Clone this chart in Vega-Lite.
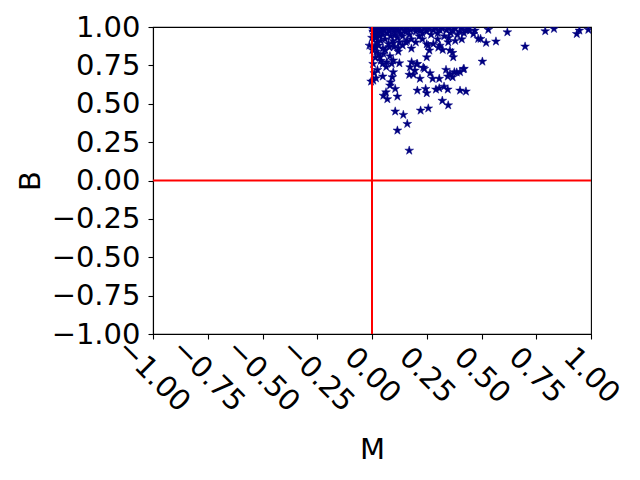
{
  "$schema": "https://vega.github.io/schema/vega-lite/v6.json",
  "width": 438,
  "height": 307,
  "autosize": "none",
  "padding": {"left": 153, "top": 27, "right": 49, "bottom": 146},
  "background": "white",
  "config": {
    "view": {"stroke": "black", "strokeWidth": 1.1},
    "font": "DejaVu Sans",
    "axis": {
      "grid": false,
      "domainColor": "black",
      "domainWidth": 1.1,
      "tickColor": "black",
      "tickWidth": 1.1,
      "tickSize": 5,
      "tickCount": 9,
      "labelFont": "DejaVu Sans",
      "labelFontSize": 29,
      "labelColor": "black",
      "labelFlush": false,
      "labelOverlap": false,
      "titleFont": "DejaVu Sans",
      "titleFontSize": 29,
      "titleFontWeight": "normal",
      "titleColor": "black"
    }
  },
  "datasets": {
    "pts": [
      {"M": 0.17, "B": 0.195}, {"M": 0.116, "B": 0.326}, {"M": 0.161, "B": 0.369}, {"M": 0.106, "B": 0.45},
      {"M": 0.143, "B": 0.428}, {"M": 0.222, "B": 0.456}, {"M": 0.257, "B": 0.47}, {"M": 0.321, "B": 0.52},
      {"M": 0.348, "B": 0.49}, {"M": 0.052, "B": 0.553}, {"M": 0.07, "B": 0.53}, {"M": 0.064, "B": 0.575},
      {"M": 0.116, "B": 0.547}, {"M": 0.106, "B": 0.597}, {"M": 0.207, "B": 0.586}, {"M": 0.245, "B": 0.597},
      {"M": 0.25, "B": 0.569}, {"M": 0.292, "B": 0.593}, {"M": 0.307, "B": 0.601}, {"M": 0.329, "B": 0.612},
      {"M": 0.346, "B": 0.593}, {"M": 0.402, "B": 0.586}, {"M": 0.429, "B": 0.58}, {"M": 0.006, "B": 0.651},
      {"M": 0.018, "B": 0.666}, {"M": 0.049, "B": 0.678}, {"M": -0.004, "B": 0.645}, {"M": 0.085, "B": 0.64},
      {"M": 0.093, "B": 0.673}, {"M": 0.097, "B": 0.706}, {"M": 0.082, "B": 0.619}, {"M": 0.17, "B": 0.689},
      {"M": 0.189, "B": 0.69}, {"M": 0.219, "B": 0.663}, {"M": 0.196, "B": 0.717}, {"M": 0.174, "B": 0.738},
      {"M": 0.181, "B": 0.771}, {"M": 0.207, "B": 0.76}, {"M": 0.265, "B": 0.699}, {"M": 0.277, "B": 0.663},
      {"M": 0.307, "B": 0.663}, {"M": 0.239, "B": 0.728}, {"M": 0.338, "B": 0.721}, {"M": 0.356, "B": 0.695},
      {"M": 0.376, "B": 0.706}, {"M": 0.346, "B": 0.678}, {"M": 0.402, "B": 0.706}, {"M": 0.42, "B": 0.728},
      {"M": 0.368, "B": 0.673}, {"M": 0.049, "B": 0.76}, {"M": 0.067, "B": 0.771}, {"M": 0.097, "B": 0.782},
      {"M": 0.125, "B": 0.764}, {"M": 0.082, "B": 0.81}, {"M": 0.037, "B": 0.803}, {"M": 0.052, "B": 0.825},
      {"M": 0.25, "B": 0.803}, {"M": 0.262, "B": 0.847}, {"M": 0.257, "B": 0.879}, {"M": 0.31, "B": 0.879},
      {"M": 0.323, "B": 0.851}, {"M": 0.356, "B": 0.847}, {"M": 0.348, "B": 0.901}, {"M": 0.371, "B": 0.803},
      {"M": 0.368, "B": 0.832}, {"M": 0.12, "B": 0.864}, {"M": 0.097, "B": 0.894}, {"M": 0.125, "B": 0.901},
      {"M": 0.155, "B": 0.901}, {"M": 0.079, "B": 0.868}, {"M": -0.012, "B": 0.879}, {"M": 0.021, "B": 0.933},
      {"M": 0.018, "B": 0.868}, {"M": 0.447, "B": 0.977}, {"M": 0.463, "B": 0.955}, {"M": 0.485, "B": 0.923},
      {"M": 0.47, "B": 0.977}, {"M": 0.531, "B": 0.982}, {"M": 0.496, "B": 0.923}, {"M": 0.521, "B": 0.897},
      {"M": 0.566, "B": 0.906}, {"M": 0.618, "B": 0.966}, {"M": 0.699, "B": 0.873}, {"M": 0.504, "B": 0.775},
      {"M": 0.791, "B": 0.973}, {"M": 0.831, "B": 0.988}, {"M": 0.935, "B": 0.955}, {"M": 0.947, "B": 0.977},
      {"M": 0.988, "B": 0.982}, {"M": 0.25, "B": 0.888}, {"M": 0.303, "B": 0.866}, {"M": 0.234, "B": 0.736},
      {"M": 0.387, "B": 0.704}, {"M": 0.417, "B": 0.725}, {"M": 0.204, "B": 0.758},
      {"M": 0.0, "B": 0.99}, {"M": 0.005, "B": 0.97}, {"M": 0.01, "B": 0.95}, {"M": 0.012, "B": 0.99},
      {"M": 0.015, "B": 0.93}, {"M": 0.02, "B": 0.98}, {"M": 0.022, "B": 0.9}, {"M": 0.025, "B": 0.96},
      {"M": 0.03, "B": 0.99}, {"M": 0.03, "B": 0.88}, {"M": 0.035, "B": 0.94}, {"M": 0.04, "B": 0.97},
      {"M": 0.04, "B": 0.91}, {"M": 0.045, "B": 0.99}, {"M": 0.05, "B": 0.86}, {"M": 0.05, "B": 0.95},
      {"M": 0.055, "B": 0.98}, {"M": 0.06, "B": 0.92}, {"M": 0.065, "B": 0.99}, {"M": 0.07, "B": 0.96},
      {"M": 0.075, "B": 0.89}, {"M": 0.08, "B": 0.98}, {"M": 0.085, "B": 0.94}, {"M": 0.09, "B": 0.99},
      {"M": 0.095, "B": 0.91}, {"M": 0.1, "B": 0.97}, {"M": 0.105, "B": 0.95}, {"M": 0.11, "B": 0.99},
      {"M": 0.115, "B": 0.93}, {"M": 0.12, "B": 0.98}, {"M": 0.13, "B": 0.96}, {"M": 0.135, "B": 0.99},
      {"M": 0.14, "B": 0.94}, {"M": 0.15, "B": 0.98}, {"M": 0.155, "B": 0.97}, {"M": 0.16, "B": 0.99},
      {"M": 0.17, "B": 0.95}, {"M": 0.175, "B": 0.98}, {"M": 0.18, "B": 0.92}, {"M": 0.19, "B": 0.99},
      {"M": 0.2, "B": 0.97}, {"M": 0.21, "B": 0.99}, {"M": 0.215, "B": 0.94}, {"M": 0.22, "B": 0.98},
      {"M": 0.23, "B": 0.96}, {"M": 0.24, "B": 0.99}, {"M": 0.25, "B": 0.97}, {"M": 0.26, "B": 0.99},
      {"M": 0.27, "B": 0.95}, {"M": 0.28, "B": 0.98}, {"M": 0.29, "B": 0.99}, {"M": 0.3, "B": 0.96},
      {"M": 0.31, "B": 0.98}, {"M": 0.32, "B": 0.99}, {"M": 0.33, "B": 0.94}, {"M": 0.34, "B": 0.98},
      {"M": 0.35, "B": 0.99}, {"M": 0.36, "B": 0.96}, {"M": 0.37, "B": 0.98}, {"M": 0.38, "B": 0.99},
      {"M": 0.39, "B": 0.95}, {"M": 0.4, "B": 0.97}, {"M": 0.41, "B": 0.99}, {"M": 0.42, "B": 0.96},
      {"M": 0.43, "B": 0.98}, {"M": 0.44, "B": 0.99}, {"M": 0.01, "B": 0.87}, {"M": 0.02, "B": 0.84},
      {"M": 0.015, "B": 0.8}, {"M": 0.03, "B": 0.82}, {"M": 0.005, "B": 0.76}, {"M": 0.025, "B": 0.72},
      {"M": 0.04, "B": 0.78}, {"M": 0.06, "B": 0.85}, {"M": 0.1, "B": 0.87}, {"M": 0.14, "B": 0.88},
      {"M": 0.18, "B": 0.86}, {"M": 0.2, "B": 0.9}, {"M": 0.23, "B": 0.92}, {"M": 0.3, "B": 0.92},
      {"M": 0.35, "B": 0.93}, {"M": 0.38, "B": 0.91}, {"M": 0.41, "B": 0.92}, {"M": 0.28, "B": 0.89},
      {"M": 0.16, "B": 0.91}, {"M": 0.12, "B": 0.84}, {"M": 0.065, "B": 0.74}, {"M": 0.09, "B": 0.76},
      {"M": 0.0, "B": 0.93}, {"M": 0.002, "B": 0.85}, {"M": 0.01, "B": 0.7}
    ],
    "vline": [{"v": 0}],
    "hline": [{"v": 0}]
  },
  "layer": [
    {
      "data": {"name": "pts"},
      "mark": {
        "type": "point",
        "shape": "M0,-1L0.2245,-0.309L0.951,-0.309L0.363,0.118L0.588,0.809L0,0.382L-0.588,0.809L-0.363,0.118L-0.951,-0.309L-0.2245,-0.309Z",
        "size": 85,
        "filled": true,
        "fill": "#000080",
        "stroke": "#000080",
        "strokeWidth": 0.5,
        "opacity": 1,
        "clip": true
      },
      "encoding": {
        "x": {
          "field": "M", "type": "quantitative", "title": "M",
          "scale": {"domain": [-1, 1], "nice": false, "zero": false},
          "axis": {
            "values": [-1, -0.75, -0.5, -0.25, 0, 0.25, 0.5, 0.75, 1],
            "tickCount": 9,
            "format": ".2f",
            "labelOverlap": false,
            "labelAngle": 45,
            "labelAlign": "center",
            "labelBaseline": "middle",
            "labelPadding": 36,
            "titleX": 219,
            "titleY": 115,
            "titleBaseline": "middle",
            "titleAlign": "center"
          }
        },
        "y": {
          "field": "B", "type": "quantitative", "title": "B",
          "scale": {"domain": [-1, 1], "nice": false, "zero": false},
          "axis": {
            "values": [-1, -0.75, -0.5, -0.25, 0, 0.25, 0.5, 0.75, 1],
            "tickCount": 9,
            "format": ".2f",
            "labelOverlap": false,
            "labelPadding": 8,
            "labelBaseline": "middle",
            "titleX": -123,
            "titleY": 153.5,
            "titleAngle": -90,
            "titleBaseline": "middle",
            "titleAlign": "center"
          }
        }
      }
    },
    {
      "data": {"name": "vline"},
      "mark": {"type": "rule", "color": "red", "strokeWidth": 2},
      "encoding": {
        "x": {
          "field": "v", "type": "quantitative", "title": "M",
          "axis": {
            "values": [-1, -0.75, -0.5, -0.25, 0, 0.25, 0.5, 0.75, 1],
            "tickCount": 9,
            "format": ".2f",
            "labelOverlap": false,
            "labelAngle": 45,
            "labelAlign": "center",
            "labelBaseline": "middle",
            "labelPadding": 36,
            "titleX": 219,
            "titleY": 115,
            "titleBaseline": "middle",
            "titleAlign": "center"
          }
        }
      }
    },
    {
      "data": {"name": "hline"},
      "mark": {"type": "rule", "color": "red", "strokeWidth": 2},
      "encoding": {
        "y": {
          "field": "v", "type": "quantitative", "title": "B",
          "axis": {
            "values": [-1, -0.75, -0.5, -0.25, 0, 0.25, 0.5, 0.75, 1],
            "tickCount": 9,
            "format": ".2f",
            "labelOverlap": false,
            "labelPadding": 8,
            "labelBaseline": "middle",
            "titleX": -123,
            "titleY": 153.5,
            "titleAngle": -90,
            "titleBaseline": "middle",
            "titleAlign": "center"
          }
        }
      }
    }
  ]
}
